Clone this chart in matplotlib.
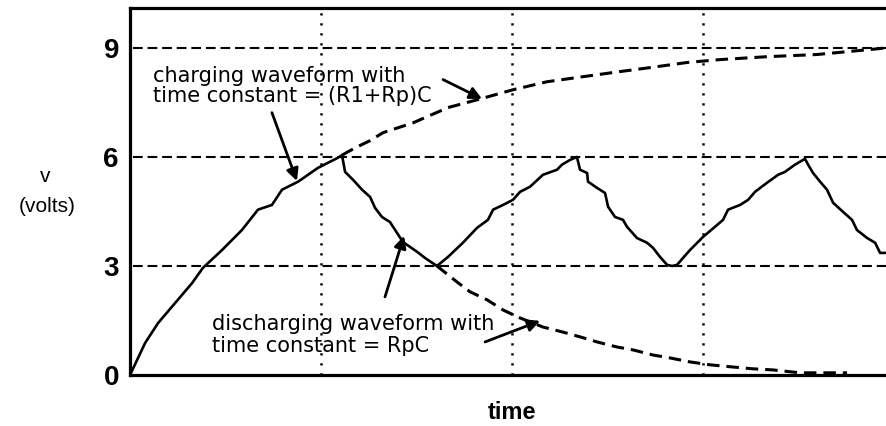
import matplotlib
matplotlib.use("Agg")
import matplotlib.pyplot as plt
import matplotlib.transforms as mtransforms

plt.rcParams['font.family'] = ['Liberation Sans', 'DejaVu Sans']
plt.rcParams['lines.scale_dashes'] = False

# Capacitor voltage across the charge / discharge cycles (time, volts)
wave_t = [0.000, 0.079, 0.147, 0.236, 0.325, 0.382, 0.482, 0.586, 0.670, 0.743, 0.796, 0.880, 0.984, 1.089, 1.110,
          1.126, 1.168, 1.215, 1.257, 1.283, 1.319, 1.361, 1.398, 1.429, 1.503, 1.545, 1.607,
          1.665, 1.743, 1.817, 1.874, 1.901, 1.953, 2.005, 2.042, 2.094, 2.162, 2.236, 2.262, 2.304, 2.340,
          2.356, 2.393, 2.398, 2.445, 2.487, 2.503, 2.539, 2.581, 2.602, 2.654, 2.707, 2.738, 2.775, 2.812, 2.838,
          2.864, 2.895, 2.932, 3.000, 3.063, 3.105, 3.131, 3.194, 3.236, 3.272, 3.335, 3.393, 3.429, 3.482, 3.534,
          3.550, 3.576, 3.613, 3.649, 3.681, 3.733, 3.780, 3.806, 3.859, 3.901, 3.927, 3.958]
wave_v = [0.00, 0.88, 1.43, 1.98, 2.53, 2.95, 3.44, 3.99, 4.55, 4.68, 5.10, 5.32, 5.70, 5.98, 6.05,
          5.59, 5.37, 5.10, 4.90, 4.60, 4.35, 4.21, 3.91, 3.66, 3.39, 3.22, 3.00,
          3.25, 3.64, 4.05, 4.27, 4.55, 4.68, 4.82, 5.04, 5.18, 5.51, 5.65, 5.79, 5.92, 6.00,
          5.65, 5.56, 5.32, 5.15, 5.01, 4.63, 4.35, 4.27, 4.08, 3.77, 3.64, 3.50, 3.25, 3.03, 3.00,
          3.03, 3.22, 3.44, 3.80, 4.08, 4.27, 4.55, 4.68, 4.82, 5.04, 5.29, 5.51, 5.59, 5.79, 5.95,
          5.79, 5.56, 5.32, 5.10, 4.74, 4.49, 4.27, 3.99, 3.77, 3.64, 3.36, 3.36]

# Continuation of the charging exponential, time constant (R1+Rp)C
charge_t = [1.110, 1.178, 1.257, 1.325, 1.482, 1.665, 1.822, 2.005, 2.183, 2.372, 2.565, 2.723, 2.916, 3.089,
            3.335, 3.597, 3.859, 3.958]
charge_v = [6.05, 6.25, 6.45, 6.67, 6.94, 7.36, 7.58, 7.85, 8.07, 8.21, 8.35, 8.46, 8.60, 8.68,
            8.76, 8.82, 8.95, 9.00]

# Continuation of the discharging exponential, time constant RpC
discharge_t = [1.607, 1.712, 1.780, 1.869, 1.953, 2.042, 2.162, 2.267, 2.356, 2.445, 2.550, 2.634, 2.738,
               2.827, 2.932, 3.037, 3.157, 3.262, 3.366, 3.508, 3.754]
discharge_v = [3.00, 2.56, 2.29, 2.07, 1.79, 1.57, 1.32, 1.18, 1.05, 0.91, 0.77, 0.69, 0.55,
               0.47, 0.36, 0.28, 0.22, 0.17, 0.14, 0.06, 0.06]

volt_levels = [0, 3, 6, 9]
volt_labels = ['0', '3', '6', '9']
time_marks = [1, 2, 3]

fig = plt.figure(figsize=(8.86, 4.26), dpi=100)
ax = fig.add_axes([130 / 886, 51 / 426, 756 / 886, 367 / 426])
ax.set_xlim(0, 3.958)
ax.set_ylim(0, 10.1)

# reference levels and time markers
for lv in volt_levels[1:]:
    ax.plot([0.015, 3.958], [lv, lv], color='black', lw=1.5, dashes=(7, 3.5), zorder=1)
for tm in time_marks:
    ax.plot([tm, tm], [0, 10.1], color='black', lw=1.8, dashes=(1.6, 5.6), zorder=1)

# exponential envelopes
ax.plot(charge_t, charge_v, color='black', lw=2.2, dashes=(9, 5), zorder=2)
ax.plot(discharge_t, discharge_v, color='black', lw=2.2, dashes=(9, 5), zorder=2)

# sawtooth-like capacitor voltage
ax.plot(wave_t, wave_v, color='black', lw=1.9, zorder=3)

# annotations
txt_kw = dict(fontsize=15, color='black', va='baseline', ha='left', family='DejaVu Sans')
ax.text(0.12, 8.07, 'charging waveform with', **txt_kw)
ax.text(0.12, 7.52, 'time constant = (R1+Rp)C', **txt_kw)
ax.text(0.43, 1.24, 'discharging waveform with', **txt_kw)
ax.text(0.43, 0.63, 'time constant = RpC', **txt_kw)

arrow_kw = dict(arrowstyle='-|>', color='black', lw=2, mutation_scale=18, shrinkA=0, shrinkB=0)
ax.annotate('', xy=(0.874, 5.34), xytext=(0.743, 7.22), arrowprops=arrow_kw)
ax.annotate('', xy=(1.843, 7.60), xytext=(1.639, 8.13), arrowprops=arrow_kw)
ax.annotate('', xy=(1.435, 3.83), xytext=(1.335, 2.15), arrowprops=arrow_kw)
ax.annotate('', xy=(2.147, 1.49), xytext=(1.859, 0.91), arrowprops=arrow_kw)

# axes styling
ax.set_xticks([])
ax.set_yticks(volt_levels)
ax.set_yticklabels(volt_labels, fontsize=20, fontweight='bold')
ax.tick_params(axis='y', length=0, pad=8)
for side in ('left', 'bottom', 'top'):
    ax.spines[side].set_linewidth(2.3)
ax.spines['right'].set_visible(False)

trans = mtransforms.blended_transform_factory(ax.transData, ax.transAxes)
ax.text(2.0, -0.1035, 'time', transform=trans, ha='center', va='center', fontsize=17, fontweight='bold')
fig.text(45 / 886, 1 - 176 / 426, 'v', ha='center', va='center', fontsize=15)
fig.text(47 / 886, 1 - 207 / 426, '(volts)', ha='center', va='center', fontsize=15)

fig.savefig('out.png', dpi=100)
